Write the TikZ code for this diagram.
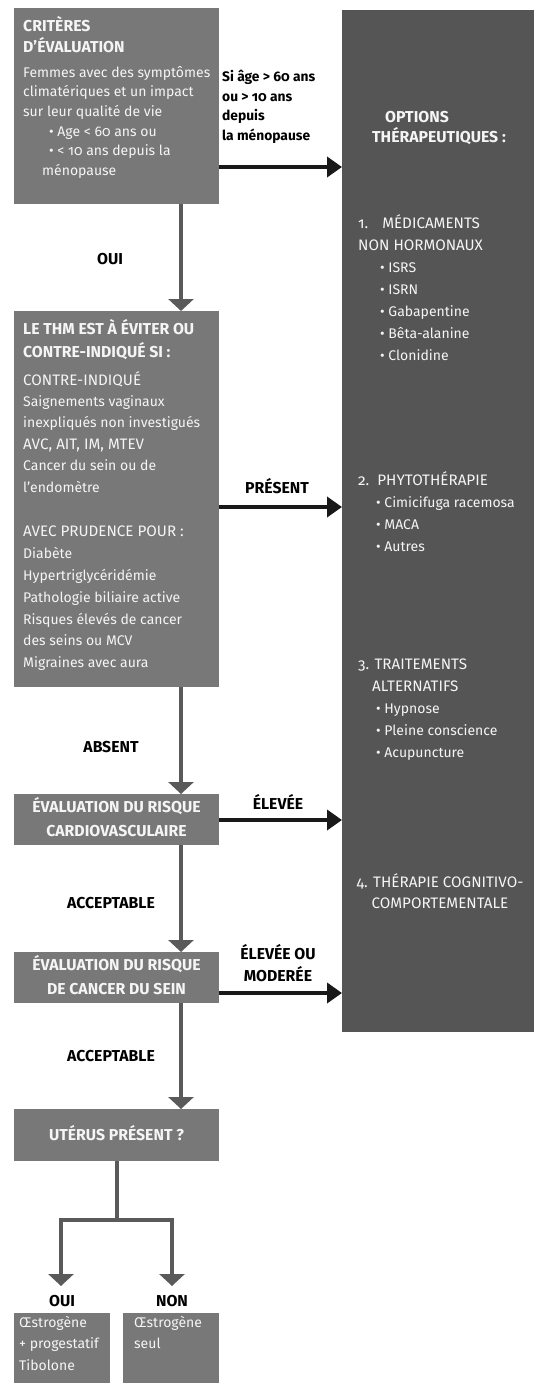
\documentclass[tikz,border=0pt]{standalone}
\usepackage{fontspec}
\setmainfont{Fira Sans}[Numbers=OldStyle]
\usetikzlibrary{arrows.meta}
\definecolor{boxg}{RGB}{120,120,120}
\definecolor{darkg}{RGB}{85,85,85}
\definecolor{arrg}{RGB}{90,90,90}
\definecolor{txtw}{RGB}{245,245,245}
\newcommand{\fz}[2]{\fontsize{#1}{#2}\selectfont}
\newcommand{\K}[1]{{\fontsize{15.2}{\the\baselineskip}\selectfont #1}}
\tikzset{
  box/.style={fill=boxg, draw=none, anchor=north west, inner sep=0pt},
  dbox/.style={fill=darkg, draw=none, anchor=north west, inner sep=0pt},
  blk/.style={anchor=north west, inner sep=0pt, align=left, yshift=11pt,
     text=txtw, execute at begin node={\rule{0pt}{16pt}}, font=\fz{14}{#1}},
  hblk/.style={anchor=north west, inner sep=0pt, align=left, yshift=11pt,
     text=txtw, execute at begin node={\rule{0pt}{16pt}}, font=\fz{15.8}{#1}\bfseries},
  cblk/.style={anchor=north, inner sep=0pt, align=center, yshift=11pt,
     text=txtw, execute at begin node={\rule{0pt}{16pt}}, font=\fz{15.8}{#1}\bfseries},
  lbl/.style={inner sep=0pt, text=black, font=\fz{15.8}{18}\bfseries},
  darr/.style={draw=arrg, line width=4.5pt, -{Triangle[width=25pt,length=12pt]}},
  gline/.style={draw=arrg, line width=4.5pt},
  rarr/.style={draw=black!90, line width=4pt, -{Triangle[width=20pt,length=15pt]}},
}
\begin{document}
\begin{tikzpicture}[x=1pt,y=-1pt]
\useasboundingbox (0,0) rectangle (534,1387);
% boxes
\node[box, minimum width=205pt, minimum height=196pt] (b1) at (14,8) {};
\node[box, minimum width=205pt, minimum height=376pt] (b2) at (14,311) {};
\node[box, minimum width=205pt, minimum height=51pt] (b3) at (14,794) {};
\node[box, minimum width=205pt, minimum height=51pt] (b4) at (14,952) {};
\node[box, minimum width=205pt, minimum height=52pt] (b5) at (14,1109) {};
\node[box, minimum width=96pt, minimum height=70pt] (b6) at (14,1313) {};
\node[box, minimum width=96pt, minimum height=70pt] (b7) at (123,1313) {};
\node[dbox, minimum width=192pt, minimum height=1022pt] (R) at (342,10) {};
% coordinates
\coordinate (cx) at (181,0);
\coordinate (y1) at (0,167);
\coordinate (y2) at (0,507);
\coordinate (y3) at (0,820);
\coordinate (y4) at (0,993);
\coordinate (j) at (117,1220);
\coordinate (jl) at (61,1220);
\coordinate (jr) at (172,1220);
\coordinate (el) at (61,1286);
\coordinate (er) at (172,1286);
% vertical arrows
\draw[darr] (b1.south -| cx) -- (b2.north -| cx);
\draw[darr] (b2.south -| cx) -- (b3.north -| cx);
\draw[darr] (b3.south -| cx) -- (b4.north -| cx);
\draw[darr] (b4.south -| cx) -- (b5.north -| cx);
\draw[gline] (b5.south -| j) -- (j);
\draw[darr, line join=miter] (j) -- (jl) -- (el);
\draw[darr, line join=miter] (j) -- (jr) -- (er);
% horizontal arrows
\draw[rarr] (b1.east |- y1) -- (R.west |- y1);
\draw[rarr] (b2.east |- y2) -- (R.west |- y2);
\draw[rarr] (b3.east |- y3) -- (R.west |- y3);
\draw[rarr] (b4.east |- y4) -- (R.west |- y4);
% box 1
\node[hblk=21] (t1a) at (23,27) {CRITÈRES\\D’ÉVALUATION};
\node[blk=19.6] (t1b) at (23,77) {Femmes avec des symptômes\\climatériques et un impact\\sur leur qualité de vie\\\hspace*{26pt}• Age < 60 ans ou\\\hspace*{26pt}• < 10 ans depuis la\\\hspace*{19pt}ménopause};
% box 2
\node[hblk=23] (t2a) at (23,330) {LE THM EST À ÉVITER OU\\CONTRE-INDIQUÉ SI :};
\node[blk=21.4] (t2b) at (23,382) {\K{CONTRE-INDIQUÉ}\\Saignements vaginaux\\inexpliqués non investigués\\\K{AVC, AIT, IM, MTEV}\\Cancer du sein ou de\\l’endomètre};
\node[blk=21.8] (t2c) at (23,537) {\K{AVEC PRUDENCE POUR :}\\Diabète\\Hypertriglycéridémie\\Pathologie biliaire active\\Risques élevés de cancer\\des seins ou MCV\\Migraines avec aura};
% boxes 3-5
\node[cblk=24] (t3) at (116.5,808) {ÉVALUATION DU RISQUE\\CARDIOVASCULAIRE};
\node[cblk=24] (t4) at (116.5,966) {ÉVALUATION DU RISQUE\\DE CANCER DU SEIN};
\node[cblk=24] (t5) at (116.5,1135) {UTÉRUS PRÉSENT ?};
% boxes 6-7
\node[blk=21.5] (t6) at (19,1327) {Œstrogène\\+ progestatif\\Tibolone};
\node[blk=21.5] (t7) at (134,1327) {Œstrogène\\seul};
% right box
\node[cblk=20] (r0a) at (417,117) {OPTIONS};
\node[cblk=20] (r0b) at (439,137) {THÉRAPEUTIQUES :};
\node[blk=22] (r1) at (358,225) {\K{1.\hspace{14pt}MÉDICAMENTS}\\\K{NON HORMONAUX}\\\hspace*{22pt}• ISRS\\\hspace*{22pt}• ISRN\\\hspace*{22pt}• Gabapentine\\\hspace*{22pt}• Bêta-alanine\\\hspace*{22pt}• Clonidine};
\node[blk=22] (r2) at (358,482) {\K{2.\hspace{8pt}PHYTOTHÉRAPIE}\\\hspace*{18pt}• Cimicifuga racemosa\\\hspace*{18pt}• MACA\\\hspace*{18pt}• Autres};
\node[blk=22] (r3) at (358,670) {\K{3. TRAITEMENTS}\\\hspace*{14pt}\K{ALTERNATIFS}\\\hspace*{18pt}• Hypnose\\\hspace*{18pt}• Pleine conscience\\\hspace*{18pt}• Acupuncture};
\node[cblk=21, font=\fz{15.2}{21}\mdseries] (r4) at (440,884) {4. THÉRAPIE COGNITIVO-\\COMPORTEMENTALE};
% labels
\node[blk=19.6, text=black, font=\fz{13.8}{19.6}\bfseries] (lq) at (222,81) {Si âge > 60 ans\\ou > 10 ans\\depuis\\la ménopause};
\node[lbl] (l1) at (110,259) {OUI};
\node[lbl] (l2) at (277,486) {PRÉSENT};
\node[lbl] (l3) at (111,747) {ABSENT};
\node[lbl] (l4) at (278,802) {ÉLEVÉE};
\node[lbl] (l5) at (111,903) {ACCEPTABLE};
\node[cblk=22, text=black] (l6) at (278,955) {ÉLEVÉE OU\\MODERÉE};
\node[lbl] (l7) at (111,1056) {ACCEPTABLE};
\node[lbl] (l8) at (62,1301) {OUI};
\node[lbl] (l9) at (172,1301) {NON};
\end{tikzpicture}
\end{document}
